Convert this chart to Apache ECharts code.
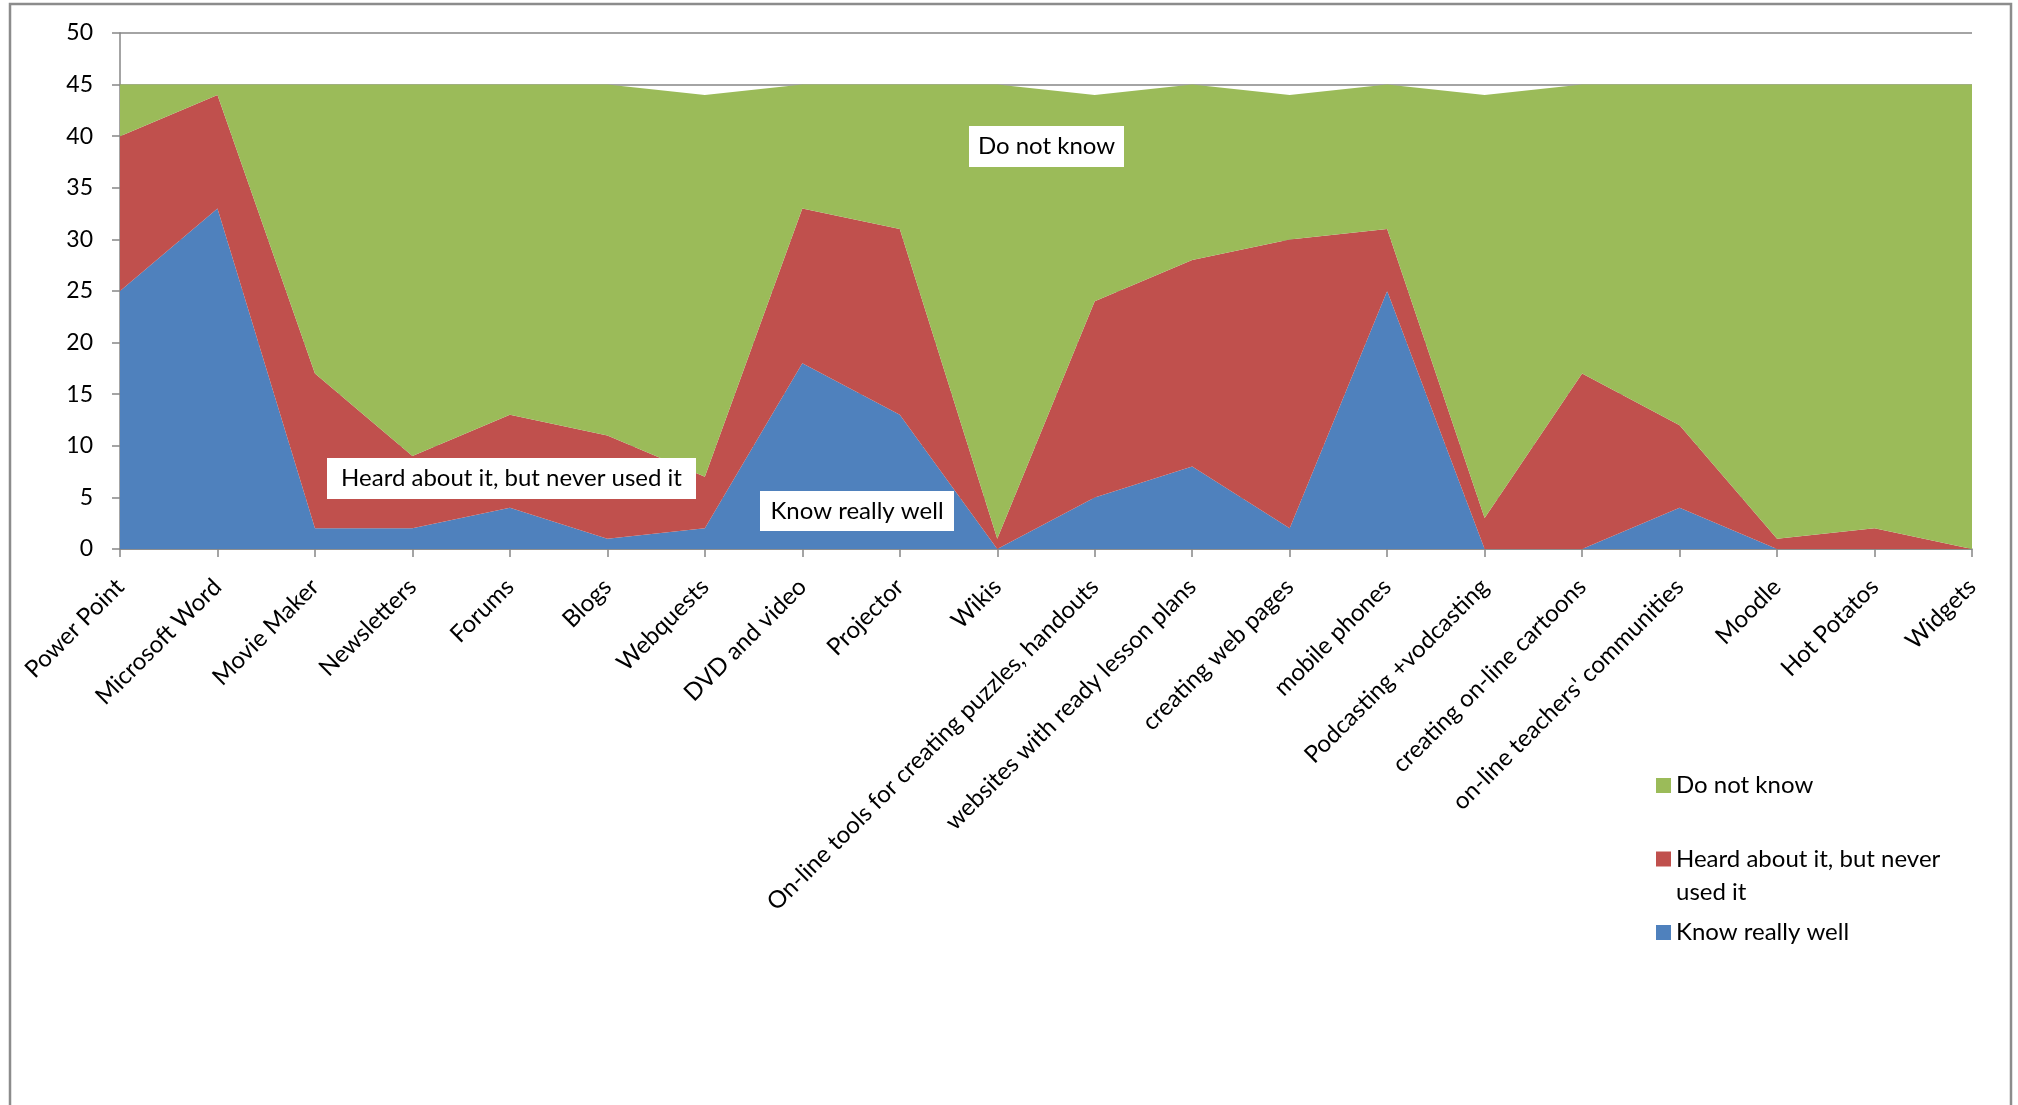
<!DOCTYPE html>
<html>
<head>
<meta charset="utf-8">
<script src="https://cdn.jsdelivr.net/npm/echarts@6/dist/echarts.min.js"></script>
<style>
html,body{margin:0;padding:0;background:#fff;}
#chart{width:2018px;height:1105px;}
</style>
</head>
<body>
<div id="chart"></div>
<script>
const categories = [
  "Power Point", "Microsoft Word", "Movie Maker", "Newsletters", "Forums",
  "Blogs", "Webquests", "DVD and video", "Projector", "Wikis",
  "On-line tools for creating puzzles, handouts", "websites with ready lesson plans",
  "creating web pages", "mobile phones", "Podcasting +vodcasting",
  "creating on-line cartoons", "on-line teachers' communities", "Moodle",
  "Hot Potatos", "Widgets"
];
const knowReallyWell = [25, 33, 2, 2, 4, 1, 2, 18, 13, 0, 5, 8, 2, 25, 0, 0, 4, 0, 0, 0];
const heardNeverUsed = [15, 11, 15, 7, 9, 10, 5, 15, 18, 1, 19, 20, 28, 6, 3, 17, 8, 1, 2, 0];
const doNotKnow      = [5, 1, 28, 36, 32, 34, 37, 12, 14, 44, 20, 17, 14, 14, 41, 28, 33, 44, 43, 45];
const yTicks = { min: 0, max: 50, interval: 5 };
const seriesNames = ["Know really well", "Heard about it, but never used it", "Do not know"];

const FONT = "Lato, 'Open Sans', sans-serif";
const chart = echarts.init(document.getElementById('chart'));

function boxLabel(text, x, y, w, h) {
  return {
    type: 'group', z: 100,
    children: [
      { type: 'rect', z: 100, shape: { x: x, y: y, width: w, height: h }, style: { fill: '#ffffff' } },
      { type: 'text', z: 101, x: x + w / 2, y: y + h / 2,
        style: { text: text, fill: '#000', font: '24px ' + FONT, align: 'center', verticalAlign: 'middle' } }
    ]
  };
}

const option = {
  animation: false,
  backgroundColor: '#ffffff',
  grid: { left: 120, right: 46, top: 33, bottom: 556, containLabel: false },
  xAxis: {
    type: 'category',
    data: categories,
    boundaryGap: false,
    axisLine: { show: true, lineStyle: { color: '#868686', width: 1.5 } },
    axisTick: { show: true, length: 8, lineStyle: { color: '#868686', width: 1.5 } },
    axisLabel: { interval: 0, rotate: 45, margin: 34, color: '#000', fontFamily: FONT, fontSize: 24 }
  },
  yAxis: {
    type: 'value',
    min: yTicks.min, max: yTicks.max, interval: yTicks.interval,
    axisLine: { show: true, lineStyle: { color: '#868686', width: 1.5 } },
    axisTick: { show: true, length: 8, lineStyle: { color: '#868686', width: 1.5 } },
    axisLabel: { margin: 27, color: '#000', fontFamily: FONT, fontSize: 23 },
    splitLine: { show: true, lineStyle: { color: '#868686', width: 1.5 } }
  },
  legend: {
    orient: 'vertical',
    left: 1656, top: 769,
    padding: 0,
    itemWidth: 15, itemHeight: 15, itemGap: 7.5,
    icon: 'rect',
    data: [
      { name: seriesNames[2] },
      { name: seriesNames[1] },
      { name: seriesNames[0] }
    ],
    formatter: function (name) {
      if (name === seriesNames[1]) return ' \nHeard about it, but never\nused it';
      return name;
    },
    textStyle: { color: '#000', fontFamily: FONT, fontSize: 24, lineHeight: 33 }
  },
  color: ['#4F81BD', '#C0504D', '#9BBB59'],
  series: [
    { name: seriesNames[0], type: 'line', stack: 'total', data: knowReallyWell, showSymbol: false, symbol: 'none',
      lineStyle: { width: 0 }, areaStyle: { color: '#4F81BD', opacity: 1 }, itemStyle: { color: '#4F81BD' } },
    { name: seriesNames[1], type: 'line', stack: 'total', data: heardNeverUsed, showSymbol: false, symbol: 'none',
      lineStyle: { width: 0 }, areaStyle: { color: '#C0504D', opacity: 1 }, itemStyle: { color: '#C0504D' } },
    { name: seriesNames[2], type: 'line', stack: 'total', data: doNotKnow, showSymbol: false, symbol: 'none',
      lineStyle: { width: 0 }, areaStyle: { color: '#9BBB59', opacity: 1 }, itemStyle: { color: '#9BBB59' } }
  ],
  graphic: [
    { type: 'rect', z: -1, silent: true, shape: { x: 10, y: 4, width: 2001, height: 1200 },
      style: { fill: 'none', stroke: '#8c8c8c', lineWidth: 2.5 } },
    boxLabel('Do not know', 969, 126, 155, 41),
    boxLabel('Heard about it, but never used it', 327, 458, 369, 41),
    boxLabel('Know really well', 760, 491, 194, 40)
  ]
};
chart.setOption(option);
</script>
</body>
</html>
